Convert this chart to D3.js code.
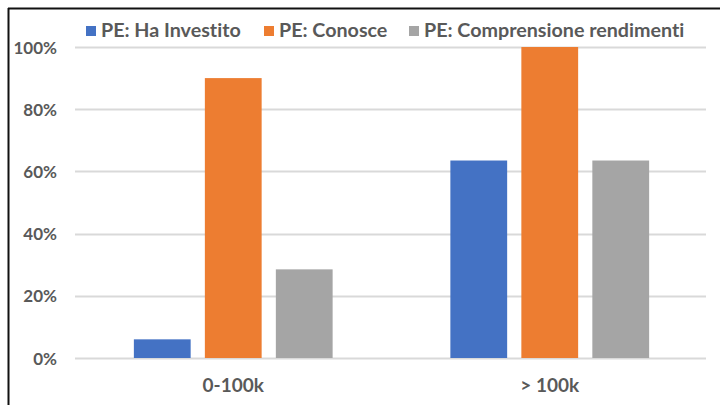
<!DOCTYPE html>
<html>
<head>
<meta charset="utf-8">
<script src="https://cdn.jsdelivr.net/npm/d3@7"></script>
<style>
  html, body { margin: 0; padding: 0; background: #ffffff; }
  svg { display: block; }
  text { font-family: Lato, "Open Sans", sans-serif; font-weight: 700; fill: #595959; font-variant-ligatures: none; }
</style>
</head>
<body>
<svg id="chart" width="720" height="405"></svg>
<script>
// Income brackets on the x axis
const categories = ["0-100k", "> 100k"];
// Series names (legend order)
const seriesNames = ["PE: Ha Investito", "PE: Conosce", "PE: Comprensione rendimenti"];
// Share of respondents per bracket, one array per series
const haInvestito = [0.06, 0.635];
const conosce = [0.90, 1.00];
const comprensione = [0.285, 0.635];
const seriesValues = [haInvestito, conosce, comprensione];
// Axis ticks
const yTicks = [0, 0.2, 0.4, 0.6, 0.8, 1.0];
const colors = ["#4472C4", "#ED7D31", "#A5A5A5"];

const W = 720, H = 405;
const margin = { top: 47, right: 12, bottom: 47, left: 75 };
const svg = d3.select("#chart");

// frame lines at top and left
svg.append("line").attr("x1", 8).attr("x2", W).attr("y1", 8.5).attr("y2", 8.5)
  .attr("stroke", "#111").attr("stroke-width", 2);
svg.append("line").attr("x1", 8.5).attr("x2", 8.5).attr("y1", 8).attr("y2", H)
  .attr("stroke", "#111").attr("stroke-width", 2);

const x0 = d3.scaleBand().domain(categories)
  .range([margin.left, W - margin.right]).padding(0);
const bw = x0.bandwidth();
const x1 = d3.scaleBand().domain(seriesNames)
  .range([bw * 0.186, bw * 0.814]).paddingInner(0.2).paddingOuter(0);
const y = d3.scaleLinear().domain([0, 1]).range([H - margin.bottom, margin.top]);

// horizontal gridlines
svg.append("g").selectAll("line").data(yTicks).join("line")
  .attr("x1", margin.left).attr("x2", W - margin.right - 2)
  .attr("y1", d => Math.round(y(d)) + 0.5).attr("y2", d => Math.round(y(d)) + 0.5)
  .attr("stroke", "#D9D9D9").attr("stroke-width", 2);

// y axis labels
const yAxis = d3.axisLeft(y).tickValues(yTicks).tickFormat(d3.format(".0%")).tickSize(0).tickPadding(0);
const gy = svg.append("g").attr("transform", `translate(57,0)`).call(yAxis);
gy.select(".domain").remove();
gy.selectAll("text").style("font-size", "17px").attr("dy", "0.36em");

// bars
const groups = svg.append("g").selectAll("g").data(categories).join("g")
  .attr("transform", c => `translate(${x0(c)},0)`);
groups.selectAll("rect")
  .data((c, ci) => seriesNames.map((s, si) => ({ s, si, v: seriesValues[si][ci] })))
  .join("rect")
  .attr("x", d => x1(d.s))
  .attr("width", x1.bandwidth())
  .attr("y", d => y(d.v))
  .attr("height", d => y(0) - y(d.v))
  .attr("fill", d => colors[d.si]);

// category labels
const xAxis = d3.axisBottom(x0).tickSize(0).tickPadding(0);
const gx = svg.append("g").attr("transform", `translate(0,${H - margin.bottom})`).call(xAxis);
gx.select(".domain").remove();
gx.selectAll("text").style("font-size", "19px").attr("y", 34).attr("dy", 0);

// legend
const legendX = [86, 264, 409];
const legend = svg.append("g").selectAll("g").data(seriesNames).join("g")
  .attr("transform", (d, i) => `translate(${legendX[i]},26)`);
legend.append("rect").attr("width", 10).attr("height", 10).attr("fill", (d, i) => colors[i]);
legend.append("text").attr("x", 15).attr("y", 10.5).style("font-size", "19.7px").text(d => d);
</script>
</body>
</html>
